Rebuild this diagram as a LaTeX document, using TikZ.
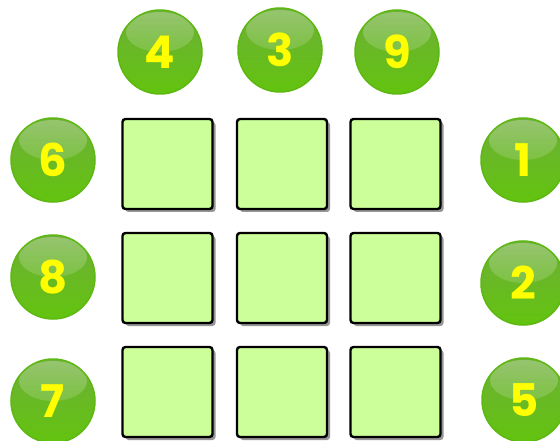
\documentclass[tikz,border=0pt]{standalone}
\usepackage{fontspec}
\usetikzlibrary{positioning,shadows,fadings}
\newfontfamily\numfont{Poppins}
\definecolor{ballbottom}{HTML}{62C40E}
\definecolor{ballmid}{HTML}{3C8400}
\definecolor{balltop}{HTML}{6FAE3A}
\definecolor{ballrim}{HTML}{5DB812}
\definecolor{cellfill}{HTML}{CCFF99}
\definecolor{numyellow}{HTML}{FFFF00}
\tikzset{
  ball/.style={circle,minimum size=84pt,inner sep=0pt,draw=ballrim,line width=1.5pt,
    top color=balltop,middle color=ballmid,bottom color=ballbottom,
    font=\numfont\bfseries\fontsize{45}{45}\selectfont,text=numyellow,
    path picture={\fill[white,path fading=south,fill opacity=0.28]
      ([yshift=-22pt]path picture bounding box.north) ellipse (34pt and 20pt);}},
  cell/.style={draw=black,line width=2.4pt,fill=cellfill,rounded corners=3pt,
    minimum size=90pt,inner sep=0pt,
    drop shadow={shadow xshift=3pt,shadow yshift=-3pt,opacity=0.55,fill=black!75}}
}
\begin{document}
\begin{tikzpicture}[x=1pt,y=-1pt]
  \useasboundingbox[fill=white] (0,0) rectangle (560,441);
  % number balls
  \node[ball] (top4) at (160,52) {4};
  \node[ball] (top3) at (280,50) {3};
  \node[ball] (top9) at (397,52) {9};
  \node[ball] (left6) at (53,160) {6};
  \node[ball] (left8) at (53,277) {8};
  \node[ball] (left7) at (53,401) {7};
  \node[ball] (right1) at (523,160) {1};
  \node[ball] (right2) at (523,283) {2};
  \node[ball] (right5) at (524,400) {5};
  % grid of cells
  \foreach \x [count=\c] in {167.5,282,395.5}
    \foreach \y [count=\r] in {164,278,392}
      \node[cell] (cell\r\c) at (\x,\y) {};
\end{tikzpicture}
\end{document}
